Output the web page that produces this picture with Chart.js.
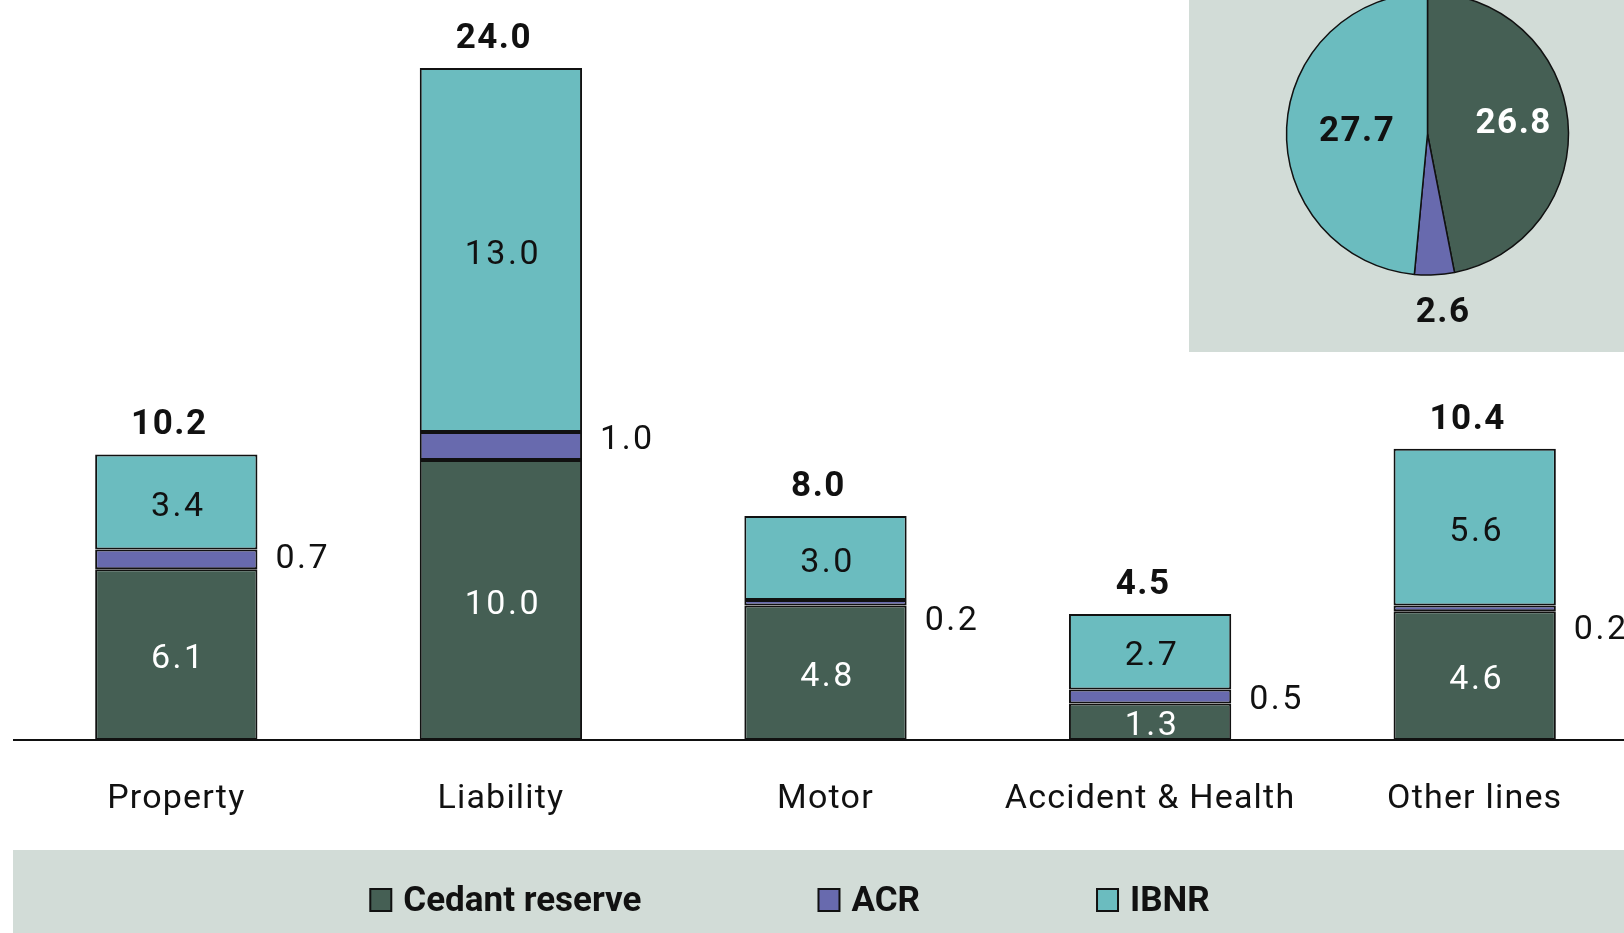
<!DOCTYPE html>
<html>
<head>
<meta charset="utf-8">
<script src="https://cdn.jsdelivr.net/npm/chart.js@4.4.1/dist/chart.umd.min.js"></script>
<style>
  html, body { margin: 0; padding: 0; overflow: hidden; background: #fff; }
  #page { position: relative; width: 1624px; height: 933px; overflow: hidden; }
  #legendBand { position: absolute; left: 13px; top: 850px; width: 1611px; height: 83px; background: #d2dcd7; }
  #bars { position: absolute; left: 0; top: 0; }
  #pie { position: absolute; left: 1189px; top: -16px; background: #d2dcd7; }
</style>
</head>
<body>
<div id="page">
  <div id="legendBand"></div>
  <canvas id="bars" width="1637" height="933"></canvas>
  <canvas id="pie" width="435" height="368"></canvas>
</div>
<script>
// data
const categories = ["Property", "Liability", "Motor", "Accident & Health", "Other lines"];
const cedantReserve = [6.1, 10.0, 4.8, 1.3, 4.6];
const acr = [0.7, 1.0, 0.2, 0.5, 0.2];
const ibnr = [3.4, 13.0, 3.0, 2.7, 5.6];
const totals = [10.2, 24.0, 8.0, 4.5, 10.4];
const pieLabels = ["Cedant reserve", "ACR", "IBNR"];
const pieValues = [26.8, 2.6, 27.7];

const colors = ["#455f54", "#686aae", "#6bbcbf"];
const ink = "#111";
const font = "Roboto";

// where the ACR values sit next to the bars (px shift from segment middle)
const acrShift = [0, -6, 19, 4, 22];
// pie labels: distance from centre as share of radius, plus a small nudge
const pieLabelDist = [0.6, 1.24, 0.5];
const pieLabelNudge = [[2, -4], [7, 3], [0, 0]];
const pieLabelColors = ["#fff", ink, ink];

// the source font is set wider than Roboto
const spaced = {
  id: "spaced",
  beforeDraw(chart) { chart.ctx.letterSpacing = "1.2px"; }
};

const barLabels = {
  id: "barLabels",
  afterDatasetsDraw(chart) {
    const ctx = chart.ctx;
    ctx.save();
    ctx.letterSpacing = "2.5px";
    ctx.textBaseline = "middle";
    ctx.font = "34px " + font;
    chart.data.datasets.forEach((ds, i) => {
      chart.getDatasetMeta(i).data.forEach((bar, j) => {
        const v = ds.data[j];
        const mid = (bar.y + bar.base) / 2;
        if (i === 1) {
          ctx.textAlign = "left";
          ctx.fillStyle = ink;
          ctx.fillText(v.toFixed(1), bar.x + bar.width / 2 + 18, mid + acrShift[j]);
        } else {
          ctx.textAlign = "center";
          ctx.fillStyle = i === 0 ? "#fff" : ink;
          ctx.fillText(v.toFixed(1), bar.x + 2, mid + 5);
        }
      });
    });
    // totals on top
    ctx.letterSpacing = "1.5px";
    ctx.font = "bold 35px " + font;
    ctx.textAlign = "center";
    ctx.fillStyle = ink;
    chart.getDatasetMeta(2).data.forEach((bar, j) => {
      ctx.fillText(totals[j].toFixed(1), bar.x - 7, bar.y - 29);
    });
    ctx.restore();
  }
};

const bottomLegend = {
  id: "bottomLegend",
  afterDraw(chart) {
    const ctx = chart.ctx;
    ctx.save();
    ctx.letterSpacing = "0px";
    ctx.font = "bold 35px " + font;
    const items = chart.data.datasets.map(ds => ({
      text: ds.label,
      color: ds.backgroundColor,
      w: ctx.measureText(ds.label).width
    }));
    const box = 21, gap = 12, spacing = 177;
    const total = items.reduce((s, it) => s + box + gap + it.w, 0) + spacing * (items.length - 1);
    let x = 790 - total / 2;
    const y = 900;
    items.forEach(it => {
      ctx.fillStyle = it.color;
      ctx.fillRect(x, y - 11, box, 22);
      ctx.lineWidth = 2;
      ctx.strokeStyle = ink;
      ctx.strokeRect(x, y - 11, box, 22);
      ctx.fillStyle = ink;
      ctx.textAlign = "left";
      ctx.textBaseline = "middle";
      ctx.fillText(it.text, x + box + gap, y + 2);
      x += box + gap + it.w + spacing;
    });
    ctx.restore();
  }
};

new Chart(document.getElementById("bars"), {
  type: "bar",
  data: {
    labels: categories,
    datasets: [
      { label: "Cedant reserve", data: cedantReserve, backgroundColor: colors[0] },
      { label: "ACR", data: acr, backgroundColor: colors[1] },
      { label: "IBNR", data: ibnr, backgroundColor: colors[2] }
    ]
  },
  options: {
    responsive: false,
    animation: false,
    layout: { padding: { left: 14, right: 0, top: 0, bottom: 0 } },
    datasets: {
      bar: { barPercentage: 0.5, categoryPercentage: 1, borderColor: ink, borderWidth: 2, borderSkipped: false }
    },
    plugins: { legend: { display: false }, tooltip: { enabled: false } },
    scales: {
      x: {
        stacked: true,
        grid: { display: false },
        border: { display: true, color: ink, width: 2 },
        ticks: { color: ink, font: { family: font, size: 34 }, padding: 31, maxRotation: 0, autoSkip: false },
        afterFit: s => { s.height = 193; }
      },
      y: { stacked: true, display: false, min: 0, max: 26.43 }
    }
  },
  plugins: [spaced, barLabels, bottomLegend]
});

const pieText = {
  id: "pieText",
  afterDatasetsDraw(chart) {
    const ctx = chart.ctx;
    ctx.save();
    ctx.letterSpacing = "1.5px";
    ctx.font = "bold 35px " + font;
    ctx.textAlign = "center";
    ctx.textBaseline = "middle";
    chart.getDatasetMeta(0).data.forEach((arc, i) => {
      const a = (arc.startAngle + arc.endAngle) / 2;
      const r = arc.outerRadius * pieLabelDist[i];
      ctx.fillStyle = pieLabelColors[i];
      ctx.fillText(pieValues[i].toFixed(1),
        arc.x + Math.cos(a) * r + pieLabelNudge[i][0],
        arc.y + Math.sin(a) * r + 2 + pieLabelNudge[i][1]);
    });
    ctx.restore();
  }
};

new Chart(document.getElementById("pie"), {
  type: "pie",
  data: {
    labels: pieLabels,
    datasets: [{ data: pieValues, backgroundColor: colors, borderColor: ink, borderWidth: 1.5 }]
  },
  options: {
    responsive: false,
    animation: false,
    radius: 141,
    layout: { padding: { left: 42, top: 0, right: 0, bottom: 68 } },
    plugins: { legend: { display: false }, tooltip: { enabled: false } }
  },
  plugins: [pieText]
});
</script>
</body>
</html>
